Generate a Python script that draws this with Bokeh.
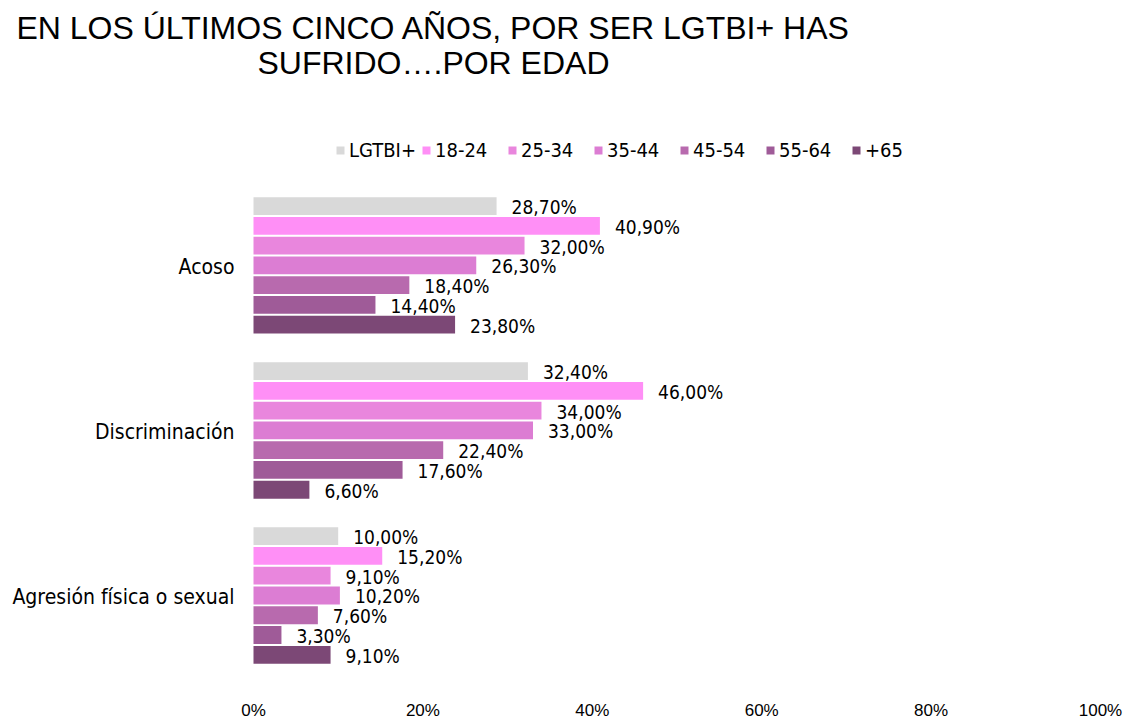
from bokeh.plotting import figure
from bokeh.models import ColumnDataSource, Range1d, Label, Legend, LegendItem, FixedTicker, CustomJSTickFormatter
from bokeh.transform import dodge
from bokeh.core.properties import value
from bokeh.embed import file_html
from bokeh.resources import INLINE

categories = ["Acoso", "Discriminación", "Agresión física o sexual"]
series_names = ["LGTBI+", "18-24", "25-34", "35-44", "45-54", "55-64", "+65"]
lgtbi = [28.7, 32.4, 10.0]
age_18_24 = [40.9, 46.0, 15.2]
age_25_34 = [32.0, 34.0, 9.1]
age_35_44 = [26.3, 33.0, 10.2]
age_45_54 = [18.4, 22.4, 7.6]
age_55_64 = [14.4, 17.6, 3.3]
age_65 = [23.8, 6.6, 9.1]
x_ticks = [0, 20, 40, 60, 80, 100]
title_line1 = "EN LOS ÚLTIMOS CINCO AÑOS, POR SER LGTBI+ HAS"
title_line2 = "SUFRIDO….POR EDAD"

series_values = [lgtbi, age_18_24, age_25_34, age_35_44, age_45_54, age_55_64, age_65]
colors = ["#d9d9d9", "#ff8ff6", "#e986dd", "#dc7dd3", "#b86aae", "#9f5b98", "#7c4876"]

COND = "DejaVu Sans Condensed"
ARIAL = "Liberation Sans"

# numeric positions of the categories (Acoso on top)
cat_pos = [2, 1, 0]

W, H = 1127, 722
p = figure(width=W, height=H, output_backend="svg", toolbar_location=None,
           x_range=Range1d(-29.87, 103.19), y_range=Range1d(-0.503, 3.605),
           y_axis_location=None,
           min_border_left=0, min_border_right=0, min_border_top=0, min_border_bottom=36)
p.outline_line_color = None
p.background_fill_color = "white"
p.border_fill_color = "white"
p.xgrid.grid_line_color = None
p.ygrid.grid_line_color = None

pitch = 20.0 / 167.0
bar_h = 18.0 / 167.0
items = []
for i, (name, vals, col) in enumerate(zip(series_names, series_values, colors)):
    off = (3 - i) * pitch
    src = ColumnDataSource(dict(pos=cat_pos, val=vals,
                                lab=[("%.2f" % v).replace(".", ",") + "%" for v in vals]))
    r = p.hbar(y=dodge("pos", off), right="val", left=0, height=bar_h,
               source=src, fill_color=col, line_color=None)
    p.text(x="val", y=dodge("pos", off), text="lab", source=src,
           x_offset=15, y_offset=1, text_align="left", text_baseline="middle",
           text_font=value(COND), text_font_size="19px", text_color="#000000")
    items.append(LegendItem(label=name, renderers=[r]))

# category labels (left of the bars)
cat_src = ColumnDataSource(dict(pos=cat_pos, zero=[0, 0, 0], cat=categories))
p.text(x="zero", y="pos", text="cat", source=cat_src, x_offset=-19, y_offset=2,
       text_align="right", text_baseline="middle",
       text_font=value(COND), text_font_size="21px", text_color="#000000")

legend = Legend(items=items, orientation="horizontal", location=(335, 516),
                glyph_width=10, glyph_height=10, label_standoff=4, label_width=70, spacing=2,
                padding=2, margin=0, border_line_color=None, background_fill_alpha=0,
                label_text_font=COND, label_text_font_size="20px", label_text_color="#000000")
p.add_layout(legend, "center")

p.xaxis.ticker = FixedTicker(ticks=x_ticks)
p.xaxis.formatter = CustomJSTickFormatter(code="return tick.toFixed(0) + '%';")
p.xaxis.axis_line_color = None
p.xaxis.major_tick_line_color = None
p.xaxis.minor_tick_line_color = None
p.xaxis.major_label_text_font = ARIAL
p.xaxis.major_label_text_font_size = "17px"
p.xaxis.major_label_text_color = "#000000"
p.xaxis.major_label_standoff = 16

p.add_layout(Label(x=433, y=651, x_units="screen", y_units="screen", text=title_line1,
                   text_align="center", text_baseline="middle", text_font=ARIAL,
                   text_font_size="32px", text_color="#000000"))
p.add_layout(Label(x=433, y=616, x_units="screen", y_units="screen", text=title_line2,
                   text_align="center", text_baseline="middle", text_font=ARIAL,
                   text_font_size="32px", text_color="#000000"))

open("out.html", "w").write(file_html(p, INLINE))
